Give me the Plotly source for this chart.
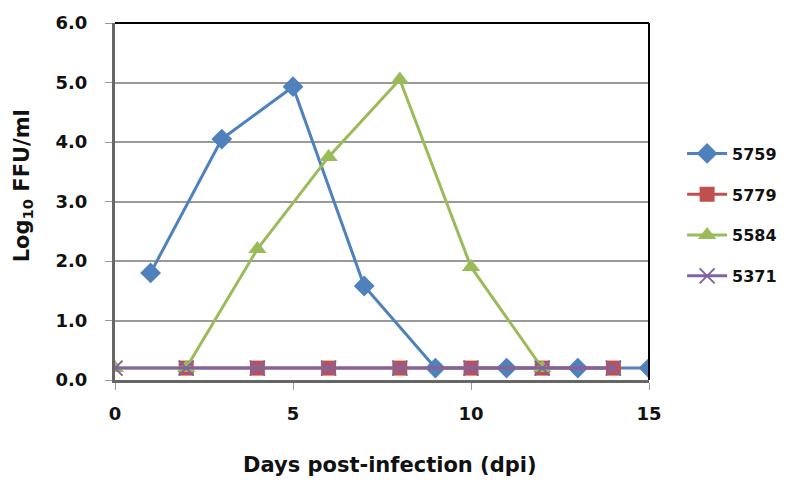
import plotly.graph_objects as go

days_5759 = [1, 3, 5, 7, 9, 11, 13, 15]
vals_5759 = [1.8, 4.05, 4.93, 1.58, 0.2, 0.2, 0.2, 0.2]
days_5779 = [2, 4, 6, 8, 10, 12, 14]
vals_5779 = [0.2, 0.2, 0.2, 0.2, 0.2, 0.2, 0.2]
days_5584 = [0, 2, 4, 6, 8, 10, 12]
vals_5584 = [0.2, 0.2, 2.2, 3.75, 5.05, 1.9, 0.2]
days_5371 = [0, 2, 4, 6, 8, 10, 12, 14]
vals_5371 = [0.2, 0.2, 0.2, 0.2, 0.2, 0.2, 0.2, 0.2]

x_ticks = [0, 5, 10, 15]
x_tick_text = ["0", "5", "10", "15"]
y_ticks = [0, 1, 2, 3, 4, 5, 6]
y_tick_text = ["0.0", "1.0", "2.0", "3.0", "4.0", "5.0", "6.0"]

series = [
    ("5759", days_5759, vals_5759, "#4F81BD", "diamond", 16),
    ("5779", days_5779, vals_5779, "#C0504D", "square", 15),
    ("5584", days_5584, vals_5584, "#9BBB59", "triangle-up", 16),
    ("5371", days_5371, vals_5371, "#8064A2", "x-thin", 15),
]

FONT = "DejaVu Sans"

fig = go.Figure()
for name, xs, ys, color, sym, size in series:
    marker = dict(symbol=sym, size=size, color=color)
    if sym == "x-thin":
        marker["line"] = dict(color=color, width=2)
    fig.add_trace(go.Scatter(
        x=xs, y=ys, name="<b>" + name + "</b>", mode="lines+markers",
        line=dict(color=color, width=3),
        marker=marker, legendgroup=name,
    ))

fig.update_layout(
    width=789, height=485,
    margin=dict(l=107, r=148, t=4, b=113),
    paper_bgcolor="white", plot_bgcolor="white",
    font=dict(family=FONT, color="#111"),
    showlegend=True,
    legend=dict(x=1.062, y=0.462, yanchor="middle", xanchor="left",
                font=dict(size=16, family=FONT, color="#111"),
                tracegroupgap=17, itemwidth=40),
    xaxis=dict(range=[0, 15], tickvals=x_ticks,
               ticktext=["<b>" + t + "</b>" for t in x_tick_text],
               ticks="outside", ticklen=7, tickwidth=1,
               tickcolor="#999", showgrid=False, showline=True,
               linecolor="#666", linewidth=3, zeroline=False,
               ticklabelstandoff=8, ticklabeloverflow="allow",
               tickfont=dict(size=18, family=FONT, color="#111")),
    yaxis=dict(range=[0, 6], tickvals=y_ticks,
               ticktext=["<b>" + t + "</b>" for t in y_tick_text],
               ticks="outside", ticklen=7, tickwidth=1, tickcolor="#999",
               showgrid=True, gridcolor="#999", gridwidth=2,
               showline=True, linecolor="#666", linewidth=3, zeroline=False,
               ticklabelstandoff=14, ticklabeloverflow="allow",
               tickfont=dict(size=18, family=FONT, color="#111")),
    annotations=[
        dict(text="<b>Log<sub>10</sub> FFU/ml</b>", textangle=-90,
             xref="paper", yref="paper", x=-0.172, y=0.543,
             xanchor="center", yanchor="middle", showarrow=False,
             borderpad=0,
             font=dict(size=21, family=FONT, color="#111")),
        dict(text="<b>Days post-infection (dpi)</b>",
             xref="paper", yref="paper", x=0.515, y=-0.239,
             xanchor="center", yanchor="middle", showarrow=False,
             font=dict(size=21, family=FONT, color="#111")),
    ],
)
# top and right black borders
fig.add_shape(type="line", xref="paper", yref="paper", x0=0, x1=1, y0=1, y1=1,
              line=dict(color="black", width=2))
fig.add_shape(type="line", xref="paper", yref="paper", x0=1, x1=1, y0=0, y1=1,
              line=dict(color="black", width=2))

fig.write_html("out.html")
